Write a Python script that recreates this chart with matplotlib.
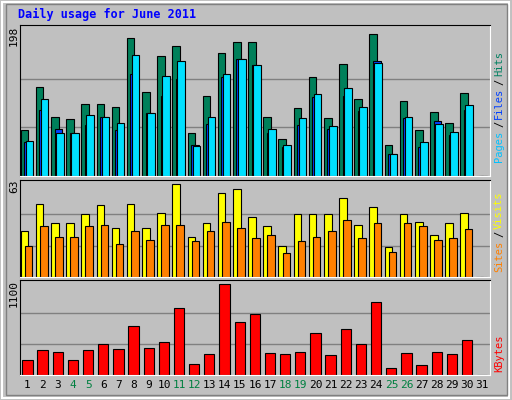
import matplotlib
matplotlib.use("Agg")
import matplotlib.pyplot as plt
import numpy as np

days = list(range(1, 32))
hits  = [62,121,80,77,98,98,93,187,114,163,176,58,108,167,182,182,80,50,92,134,79,152,105,193,42,102,62,87,72,113,0]
files = [47,105,59,58,83,80,72,164,85,136,156,41,80,138,159,151,64,42,79,111,68,119,94,153,30,80,46,71,60,96,0]
pages = [46,89,64,58,69,80,62,138,85,109,132,42,71,135,159,151,59,39,69,107,64,109,88,156,30,79,39,75,55,89,0]
visits = [31,49,36,36,42,48,33,49,33,43,62,27,36,56,59,40,34,21,42,42,42,53,35,47,20,42,37,28,36,43,0]
sites  = [21,34,27,27,34,35,22,31,25,35,35,24,31,37,33,26,28,16,24,27,31,38,26,36,17,36,34,25,26,32,0]
kbytes = [181,299,275,181,299,369,310,581,322,393,794,134,251,1076,629,723,263,251,275,499,240,546,369,864,86,263,122,275,251,416,0]
weekend = [4,5,11,12,18,19,25,26]

BG = "#c0c0c0"
fig = plt.figure(figsize=(5.12, 4.0), dpi=100, facecolor=BG)
fig.patches.append(plt.Rectangle((0.004,0.005),0.99,0.99,transform=fig.transFigure,fill=False,ec="white",lw=1.5))
fig.patches.append(plt.Rectangle((0.012,0.012),0.978,0.978,transform=fig.transFigure,fill=False,ec="#808080",lw=1))
x = np.array(days)
L, W = 0.039, 0.918
fam = "DejaVu Sans Mono"

def setup(ax, top, grid):
    ax.set_facecolor(BG)
    ax.set_xlim(0.5, 31.5)
    ax.set_ylim(0, top)
    ax.set_xticks([]); ax.set_yticks([])
    for g in grid:
        ax.axhline(g, color="#808080", lw=1, zorder=0)
    for s in ax.spines.values():
        s.set_color("white")
    ax.spines['top'].set_color("black"); ax.spines['left'].set_color("black")

ax1 = fig.add_axes([L, 0.56, W, 0.3775])
setup(ax1, 205, [66, 132])
kw = dict(align="edge", edgecolor="black", linewidth=0.8)
ax1.bar(x-0.45, hits, 0.5, color="#00805a", **kw)
ax1.bar(x-0.22, pages, 0.5, color="#0040ff", **kw)
ax1.bar(x-0.12, files, 0.5, color="#00e0ff", **kw)

ax2 = fig.add_axes([L, 0.3075, W, 0.2425])
setup(ax2, 65, [21, 42])
ax2.bar(x-0.45, visits, 0.5, color="#ffff00", **kw)
ax2.bar(x-0.18, sites, 0.5, color="#ff8000", **kw)

ax3 = fig.add_axes([L, 0.0625, W, 0.2375])
setup(ax3, 1124, [367, 733])
ax3.bar(x-0.35, kbytes, 0.68, color="#ff0000", **kw)
for d in days:
    ax3.text(d, -60, str(d), ha="center", va="top", fontsize=8, family=fam,
             color="#008040" if d in weekend else "black")

fig.text(0.035, 0.963, "Daily usage for June 2011", color="#0000ff", fontsize=8.5, weight="bold", family=fam, va="center")
fig.text(0.027, 0.935, "198", rotation=90, fontsize=8, family=fam, va="top", ha="center")
fig.text(0.027, 0.55, "63", rotation=90, fontsize=8, family=fam, va="top", ha="center")
fig.text(0.027, 0.30, "1100", rotation=90, fontsize=8, family=fam, va="top", ha="center")

def rlabel(y0, parts):
    y = y0
    for txt, col in parts:
        fig.text(0.975, y, txt, rotation=90, color=col, fontsize=7.5, family=fam, ha="center", va="bottom")
        y += len(txt) * 0.0165 + 0.004
rlabel(0.595, [("Pages", "#00c0ff"), ("/", "#000000"), ("Files", "#0040ff"), ("/", "#000000"), ("Hits", "#008060")])
rlabel(0.32, [("Sites", "#ff8000"), ("/", "#000000"), ("Visits", "#ffff00")])
rlabel(0.07, [("KBytes", "#ff0000")])

fig.savefig("out.png", dpi=100, facecolor=BG)
